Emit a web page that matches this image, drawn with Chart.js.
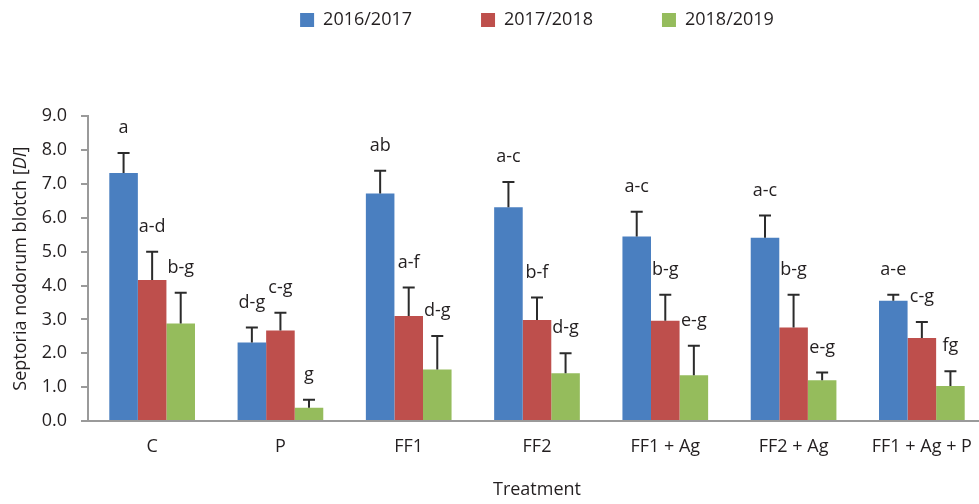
<!DOCTYPE html>
<html lang="en">
<head>
    <meta charset="UTF-8">
    <title>Septoria nodorum blotch</title>
    <script src="https://cdn.jsdelivr.net/npm/chart.js@4.4.0/dist/chart.umd.min.js"></script>
    <style>
        body {
            margin: 0;
            background: #ffffff;
            overflow: hidden;
        }

        .chart-box {
            position: relative;
            width: 990px;
            height: 504px;
        }
    </style>
</head>

<body>
    <div class="chart-box">
        <canvas id="myChart"></canvas>
    </div>
    <script>
        const categories = ['C', 'P', 'FF1', 'FF2', 'FF1 + Ag', 'FF2 + Ag', 'FF1 + Ag + P'];
        const seasons = ['2016/2017', '2017/2018', '2018/2019'];

        const values1617 = [7.32, 2.32, 6.72, 6.31, 5.45, 5.41, 3.55];
        const values1718 = [4.16, 2.67, 3.10, 2.98, 2.96, 2.76, 2.45];
        const values1819 = [2.88, 0.39, 1.52, 1.41, 1.35, 1.20, 1.03];

        // upper error (SD) for each bar
        const err1617 = [0.59, 0.44, 0.67, 0.75, 0.73, 0.66, 0.18];
        const err1718 = [0.84, 0.53, 0.84, 0.67, 0.77, 0.97, 0.47];
        const err1819 = [0.91, 0.24, 0.99, 0.59, 0.87, 0.23, 0.44];

        // significance letters
        const letters1617 = ['a', 'd-g', 'ab', 'a-c', 'a-c', 'a-c', 'a-e'];
        const letters1718 = ['a-d', 'c-g', 'a-f', 'b-f', 'b-g', 'b-g', 'c-g'];
        const letters1819 = ['b-g', 'g', 'd-g', 'd-g', 'e-g', 'e-g', 'fg'];

        const FONT = "'Open Sans', 'DejaVu Sans', sans-serif";
        const TEXT = '#231f20';
        const AXIS = '#9a9a9a';

        // error bars + letters on top of each bar
        const errorBars = {
            id: 'errorBars',
            afterDatasetsDraw(chart) {
                const ctx = chart.ctx;
                const yScale = chart.scales.y;
                ctx.save();
                chart.data.datasets.forEach(function (ds, di) {
                    const meta = chart.getDatasetMeta(di);
                    meta.data.forEach(function (bar, i) {
                        const top = yScale.getPixelForValue(ds.data[i] + ds.errors[i]);
                        ctx.strokeStyle = '#2b2b2b';
                        ctx.lineWidth = 2;
                        ctx.beginPath();
                        ctx.moveTo(bar.x, bar.y);
                        ctx.lineTo(bar.x, top);
                        ctx.moveTo(bar.x - 6, top);
                        ctx.lineTo(bar.x + 6, top);
                        ctx.stroke();

                        ctx.fillStyle = TEXT;
                        ctx.font = '18px ' + FONT;
                        ctx.textAlign = 'center';
                        ctx.textBaseline = 'middle';
                        ctx.fillText(ds.letters[i], bar.x, top - 25);
                    });
                });
                ctx.restore();
            }
        };

        // y axis title with italic DI
        const yTitle = {
            id: 'yTitle',
            afterDraw(chart) {
                const ctx = chart.ctx;
                const area = chart.chartArea;
                const part1 = 'Septoria nodorum blotch [';
                const part2 = 'DI';
                const part3 = ']';
                ctx.save();
                ctx.translate(21, (area.top + area.bottom) / 2);
                ctx.rotate(-Math.PI / 2);
                ctx.fillStyle = TEXT;
                ctx.textBaseline = 'middle';
                ctx.textAlign = 'left';
                ctx.font = '18px ' + FONT;
                const w1 = ctx.measureText(part1).width;
                const w3 = ctx.measureText(part3).width;
                ctx.font = 'italic 18px ' + FONT;
                const w2 = ctx.measureText(part2).width;
                let x = -(w1 + w2 + w3) / 2;
                ctx.font = '18px ' + FONT;
                ctx.fillText(part1, x, 0);
                x += w1;
                ctx.font = 'italic 18px ' + FONT;
                ctx.fillText(part2, x, 0);
                x += w2;
                ctx.font = '18px ' + FONT;
                ctx.fillText(part3, x, 0);
                ctx.restore();
            }
        };

        const ctx = document.getElementById('myChart').getContext('2d');
        const myChart = new Chart(ctx, {
            type: 'bar',
            data: {
                labels: categories,
                datasets: [
                    {
                        label: seasons[0],
                        data: values1617,
                        errors: err1617,
                        letters: letters1617,
                        backgroundColor: '#4a7fc0'
                    },
                    {
                        label: seasons[1],
                        data: values1718,
                        errors: err1718,
                        letters: letters1718,
                        backgroundColor: '#be4f4c'
                    },
                    {
                        label: seasons[2],
                        data: values1819,
                        errors: err1819,
                        letters: letters1819,
                        backgroundColor: '#95bc5c'
                    }
                ]
            },
            options: {
                responsive: true,
                maintainAspectRatio: false,
                animation: false,
                categoryPercentage: 0.668,
                barPercentage: 1.0,
                layout: {
                    padding: { top: -58, right: 4, bottom: 0, left: 0 }
                },
                plugins: {
                    legend: {
                        position: 'top',
                        fullSize: false,
                        weight: 3000,
                        labels: {
                            boxWidth: 14,
                            boxHeight: 14,
                            padding: 69,
                            color: TEXT,
                            font: { family: FONT, size: 18 }
                        }
                    },
                    title: {
                        display: true,
                        text: ' ',
                        font: { size: 1 },
                        padding: { top: 0, bottom: 76 }
                    },
                    tooltip: { enabled: false }
                },
                scales: {
                    x: {
                        afterFit: function (scale) {
                            scale.height = 83;
                        },
                        grid: { display: false, drawTicks: false },
                        border: { display: true, color: AXIS, width: 2 },
                        ticks: {
                            color: TEXT,
                            font: { family: FONT, size: 18 },
                            padding: 15,
                            maxRotation: 0,
                            autoSkip: false
                        },
                        title: {
                            display: true,
                            text: 'Treatment',
                            color: TEXT,
                            font: { family: FONT, size: 18 },
                            padding: { top: 22, bottom: 3 }
                        }
                    },
                    y: {
                        min: 0,
                        max: 9,
                        afterFit: function (scale) {
                            scale.width = 88;
                        },
                        grid: {
                            drawOnChartArea: false,
                            drawTicks: true,
                            tickLength: 7,
                            color: AXIS,
                            lineWidth: 2
                        },
                        border: { display: true, color: AXIS, width: 2 },
                        ticks: {
                            stepSize: 1,
                            color: TEXT,
                            font: { family: FONT, size: 18 },
                            padding: 14,
                            callback: function (v) {
                                return v.toFixed(1);
                            }
                        }
                    }
                }
            },
            plugins: [errorBars, yTitle]
        });
    </script>
</body>
</html>
